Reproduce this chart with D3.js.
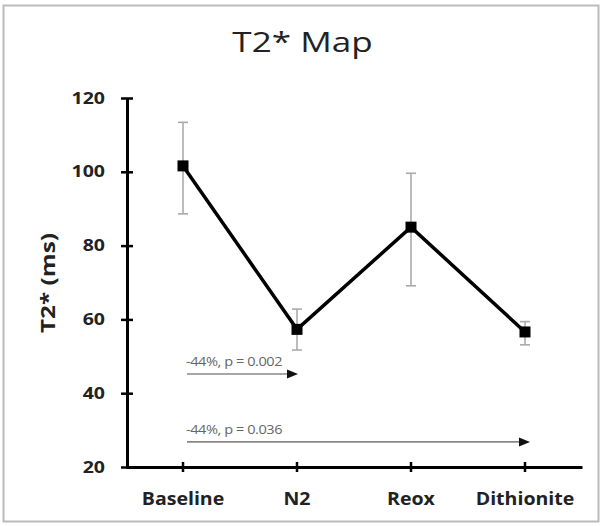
<!DOCTYPE html>
<html><head><meta charset="utf-8">
<script src="https://cdn.jsdelivr.net/npm/d3@7"></script>
<style>body{margin:0;background:#fff;} svg{display:block;}</style>
</head><body><svg id="c" width="601" height="526"></svg>
<script>
const categories = ["Baseline", "N2", "Reox", "Dithionite"];
const means = [101.6, 57.3, 85.0, 56.6];
const errHigh = [113.4, 62.8, 99.6, 59.4];
const errLow = [88.6, 51.7, 69.1, 53.1];
const yTicks = [20, 40, 60, 80, 100, 120];
const annFrom = ["Baseline", "Baseline"];
const annTo = ["N2", "Dithionite"];
const annY = [45.2, 26.8];
const annText = ["-44%, p = 0.002", "-44%, p = 0.036"];

const FONT = "'Open Sans', Lato, sans-serif";
const svg = d3.select("#c");
// frame
svg.append("rect").attr("x", 3.5).attr("y", 5.5).attr("width", 595).attr("height", 516)
  .attr("fill", "none").attr("stroke", "#bbb").attr("stroke-width", 2);

const x = d3.scaleBand().domain(categories).range([126, 582]).paddingInner(0).paddingOuter(0);
const y = d3.scaleLinear().domain([20, 120]).range([467, 98]);
const cx = d => x(d) + x.bandwidth() / 2;

svg.append("text").attr("transform", "translate(302.5,52) scale(1.3,1)").attr("text-anchor", "middle")
  .attr("font-family", FONT).attr("font-size", 27).attr("fill", "#222")
  .text("T2* Map");

// y axis
const ySx = 1.22, yPad = 22;
const ya = svg.append("g").attr("transform", "translate(127,0)")
  .call(d3.axisLeft(y).tickValues(yTicks).tickSizeInner(6).tickSizeOuter(0).tickPadding(16).tickFormat(d3.format("d")));
ya.select(".domain").attr("stroke", "#000").attr("stroke-width", 3);
ya.selectAll(".tick line").attr("x1", 6).attr("x2", -6).attr("stroke", "#000").attr("stroke-width", 2.5);
ya.selectAll(".tick text").attr("font-family", FONT).attr("font-weight", "bold")
  .attr("font-size", 16).attr("fill", "#222").attr("x", -yPad / ySx).attr("transform", `scale(${ySx},1)`);

// x axis
const xa = svg.append("g").attr("transform", "translate(0,467)")
  .call(d3.axisBottom(x).tickSizeInner(5).tickSizeOuter(0).tickPadding(21));
xa.select(".domain").attr("stroke", "#000").attr("stroke-width", 3);
xa.selectAll(".tick line").attr("y1", -5).attr("y2", 5).attr("stroke", "#000").attr("stroke-width", 2.5);
xa.selectAll(".tick text").attr("font-family", FONT).attr("font-weight", "bold")
  .attr("font-size", 17).attr("fill", "#222").attr("transform", "scale(1.15,1)");

svg.append("text").attr("transform", `translate(55,283) rotate(-90) scale(1.28,1)`).attr("text-anchor", "middle")
  .attr("font-family", FONT).attr("font-weight", "bold").attr("font-size", 19).attr("fill", "#222")
  .text("T2* (ms)");

// error bars
const eb = svg.append("g").attr("stroke", "#aaa").attr("stroke-width", 1.6);
categories.forEach((c, i) => {
  eb.append("line").attr("x1", cx(c)).attr("x2", cx(c)).attr("y1", y(errHigh[i])).attr("y2", y(errLow[i]));
  [errHigh[i], errLow[i]].forEach(v => eb.append("line").attr("x1", cx(c) - 5).attr("x2", cx(c) + 5)
    .attr("y1", y(v)).attr("y2", y(v)));
});

// line
const pts = categories.map((c, i) => [cx(c), y(means[i])]);
svg.append("path").attr("d", d3.line()(pts)).attr("fill", "none").attr("stroke", "#000").attr("stroke-width", 3.5);
svg.selectAll("rect.m").data(pts).join("rect").attr("class", "m")
  .attr("x", d => d[0] - 5.5).attr("y", d => d[1] - 5.5).attr("width", 11).attr("height", 11).attr("fill", "#000");

// annotations
annText.forEach((t, i) => {
  const x0 = cx(annFrom[i]) + 4, x1 = cx(annTo[i]) + (i === 1 ? 5 : 1), yy = y(annY[i]);
  svg.append("line").attr("x1", x0).attr("x2", x1 - 8).attr("y1", yy).attr("y2", yy)
    .attr("stroke", "#888").attr("stroke-width", 1.6);
  svg.append("path").attr("d", `M${x1},${yy} L${x1 - 11},${yy - 4.5} L${x1 - 11},${yy + 4.5} Z`).attr("fill", "#111");
  svg.append("text").attr("transform", `translate(${x0 - 1},${yy - 8}) scale(1.12,1)`).attr("font-family", FONT)
    .attr("font-size", 13).attr("fill", "#666").attr("letter-spacing", -0.4).text(t);
});
</script></body></html>
